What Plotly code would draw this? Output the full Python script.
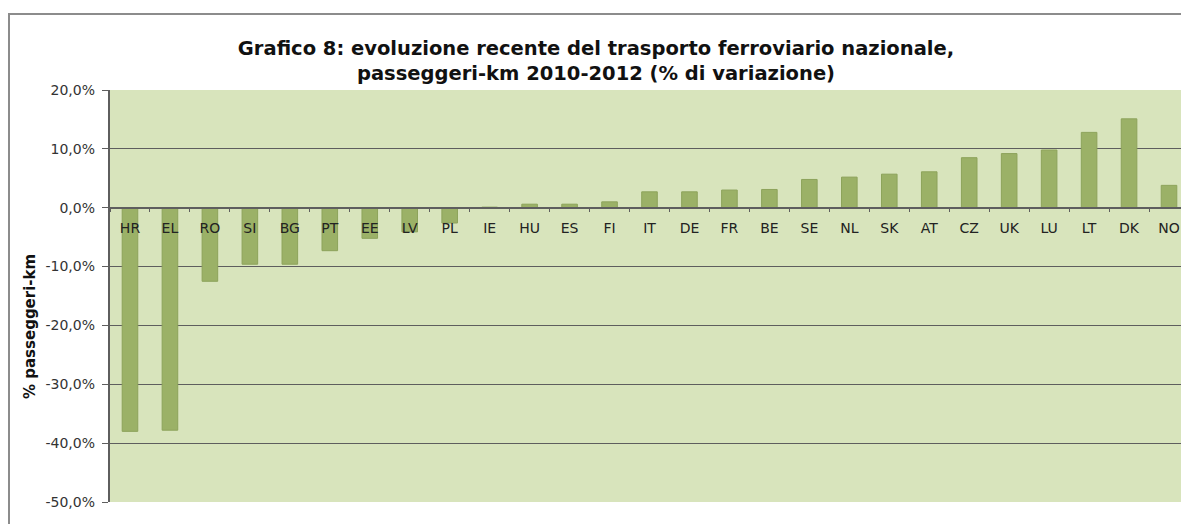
import plotly.graph_objects as go

countries = ["HR", "EL", "RO", "SI", "BG", "PT", "EE", "LV", "PL", "IE", "HU", "ES", "FI",
             "IT", "DE", "FR", "BE", "SE", "NL", "SK", "AT", "CZ", "UK", "LU", "LT", "DK", "NO"]
variation_pct = [-38.0, -37.8, -12.5, -9.6, -9.6, -7.3, -5.2, -4.1, -2.6, 0.1, 0.6, 0.6, 1.0,
                 2.7, 2.7, 3.0, 3.1, 4.8, 5.2, 5.7, 6.1, 8.5, 9.2, 9.8, 12.8, 15.1, 3.8]
y_ticks = [20, 10, 0, -10, -20, -30, -40, -50]
y_ticktext = ["20,0%", "10,0%", "0,0%", "-10,0%", "-20,0%", "-30,0%", "-40,0%", "-50,0%"]

title_text = ("Grafico 8: evoluzione recente del trasporto ferroviario nazionale,<br>"
              "passeggeri-km 2010-2012 (% di variazione)")
y_title = "% passeggeri-km"

font_family = "DejaVu Sans, Verdana, sans-serif"

W, H = 1181, 516
L, R, T, B = 102, 0, 82, 22
plot_w = W - L - R
plot_h = H - T - B

fig = go.Figure()
fig.add_trace(go.Bar(
    x=countries, y=variation_pct,
    width=0.39,
    marker=dict(color="#9BB167", line=dict(color="#8DA35B", width=1)),
))

ymin, ymax = -50, 20
zero_pos = (0 - ymin) / (ymax - ymin)

fig.update_layout(
    width=W, height=H,
    margin=dict(l=L, r=R, t=T, b=B, autoexpand=False),
    paper_bgcolor="white",
    plot_bgcolor="#D8E4BC",
    showlegend=False,
    font=dict(family=font_family, color="#222222"),
    title=dict(text=title_text, x=(596 - 8 - L) / plot_w, xref="paper", xanchor="center",
               y=1 - 47 / H, yanchor="middle",
               font=dict(family=font_family, size=19.5, color="#111111", weight="bold")),
    xaxis=dict(
        type="category",
        anchor="free", position=zero_pos,
        showline=True, linecolor="#5E5E5E", linewidth=1.5,
        ticks="outside", ticklen=4, tickcolor="#5E5E5E", tickson="boundaries",
        ticklabelstandoff=8,
        tickfont=dict(size=14, color="#222222"),
        showgrid=False, range=[-0.5, len(countries) - 0.5],
    ),
    yaxis=dict(
        range=[ymin, ymax], tickvals=y_ticks,
        ticktext=[t + "\u00a0" for t in y_ticktext],
        showgrid=True, gridcolor="#5E5E5E", gridwidth=1,
        zeroline=False,
        showline=True, linecolor="#5E5E5E", linewidth=1.5,
        ticks="outside", ticklen=6, tickcolor="#5E5E5E",
        tickfont=dict(size=14, color="#333333"),
    ),
)

fig.add_annotation(
    text="<b>" + y_title + "</b>", textangle=-90,
    xref="paper", yref="paper", x=(22 - L) / plot_w, y=(plot_h + T - 319) / plot_h,
    xanchor="center", yanchor="middle", showarrow=False,
    font=dict(family=font_family, size=15, color="#111111"),
)

# outer chart frame
fig.add_shape(type="rect", xref="paper", yref="paper",
              x0=(1 - L) / plot_w, x1=1.2, y0=-0.3, y1=(plot_h + T - 6) / plot_h,
              line=dict(color="#8C8C8C", width=2), fillcolor="rgba(0,0,0,0)", layer="below")

fig.write_html("out.html")
